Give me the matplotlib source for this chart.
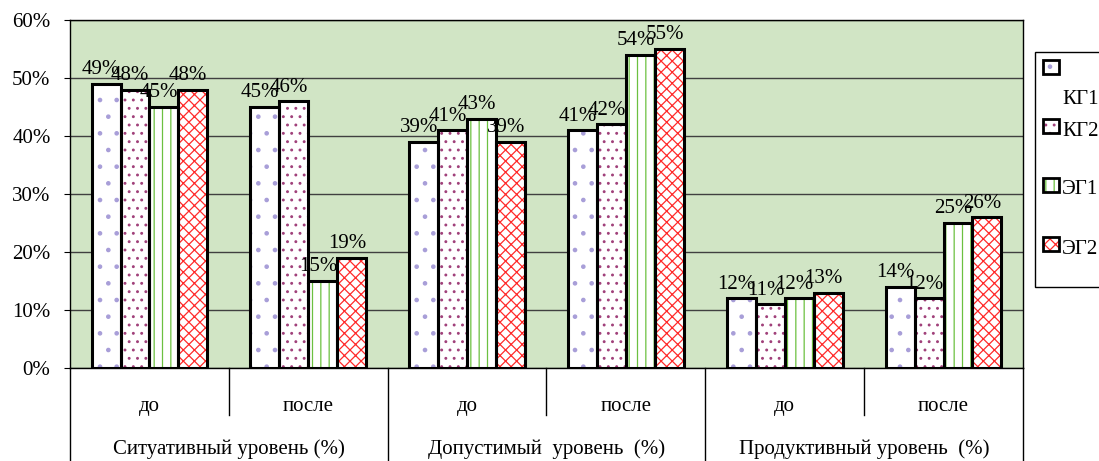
import numpy as np
import matplotlib.pyplot as plt
from matplotlib.patches import Rectangle
from matplotlib.transforms import blended_transform_factory

plt.rcParams['font.family'] = ['Liberation Serif', 'DejaVu Serif']
plt.rcParams['hatch.linewidth'] = 0.9

# -------------------------- данные --------------------------
categories = ['до', 'после', 'до', 'после', 'до', 'после']
level_names = ['Ситуативный уровень (%)', 'Допустимый  уровень  (%)', 'Продуктивный уровень  (%)']
series_names = ['КГ1', 'КГ2', 'ЭГ1', 'ЭГ2']
kg1 = [49, 45, 39, 41, 12, 14]
kg2 = [48, 46, 41, 42, 11, 12]
eg1 = [45, 15, 43, 54, 12, 25]
eg2 = [48, 19, 39, 55, 13, 26]
yticks = [0, 10, 20, 30, 40, 50, 60]

series = [kg1, kg2, eg1, eg2]
hatch_colors = ['#a89ed8', '#a0407a', '#6cc040', '#ff2a2a']
hatches = ['.', '..', '||', 'xxx']

# -------------------------- рисунок --------------------------
fig = plt.figure(figsize=(10.99, 4.61), dpi=100)
ax = fig.add_axes([70 / 1099, 1 - 368 / 461, 953 / 1099, 348 / 461])
ax.set_facecolor('#d1e5c5')

x = np.arange(len(categories))
w = 0.182
for i, vals in enumerate(series):
    pos = x + (i - 1.5) * w
    ax.bar(pos, vals, w, color='white', edgecolor=hatch_colors[i],
           hatch=hatches[i], linewidth=0, zorder=2)
    ax.bar(pos, vals, w, color='none', edgecolor='black', linewidth=2.2, zorder=3)
    for px, v in zip(pos, vals):
        ax.text(px - 0.03, v + 0.8, f'{v}%', ha='center', va='bottom',
                fontsize=15, zorder=4)

ax.set_xlim(-0.5, len(categories) - 0.5)
ax.set_ylim(0, 60)
ax.set_yticks(yticks)
ax.set_yticklabels([f'{t}%' for t in yticks], fontsize=15)
ax.yaxis.grid(True, color='#404040', linewidth=1)
ax.set_axisbelow(True)
ax.set_xticks([])
ax.tick_params(axis='y', length=4, pad=10)
for s in ax.spines.values():
    s.set_linewidth(1)
    s.set_color('black')

# -------------------------- двухуровневая ось X --------------------------
tr = blended_transform_factory(ax.transData, ax.transAxes)
for i, c in enumerate(categories):
    ax.text(i, -0.112, c, transform=tr, ha='center', va='center', fontsize=15)
for j, name in enumerate(level_names):
    ax.text(2 * j + 0.5, -0.232, name, transform=tr, ha='center', va='center', fontsize=15)
for b in np.arange(-0.5, len(categories), 1.0):
    y_end = -0.27 if (b + 0.5) % 2 == 0 else -0.135
    ax.plot([b, b], [0, y_end], transform=tr, color='black', linewidth=1, clip_on=False)

# -------------------------- легенда --------------------------
fig.patches.append(Rectangle((1035 / 1099, 1 - 287 / 461), 0.2, 235 / 461,
                             transform=fig.transFigure, facecolor='white',
                             edgecolor='black', linewidth=1))
entry_y = [67, 126, 185, 244]
label_y = [100, 131, 190, 249]
for i, name in enumerate(series_names):
    yy = 1 - entry_y[i] / 461
    fig.patches.append(Rectangle((1043 / 1099, yy - 7 / 461), 16 / 1099, 14 / 461,
                                 transform=fig.transFigure, facecolor='white',
                                 edgecolor=hatch_colors[i], hatch=hatches[i], linewidth=0))
    fig.patches.append(Rectangle((1043 / 1099, yy - 7 / 461), 16 / 1099, 14 / 461,
                                 transform=fig.transFigure, facecolor='none',
                                 edgecolor='black', linewidth=2))
    fig.text(1062 / 1099, 1 - label_y[i] / 461, name, ha='left', va='center', fontsize=15)

fig.savefig('out.png', dpi=100, facecolor='white')
